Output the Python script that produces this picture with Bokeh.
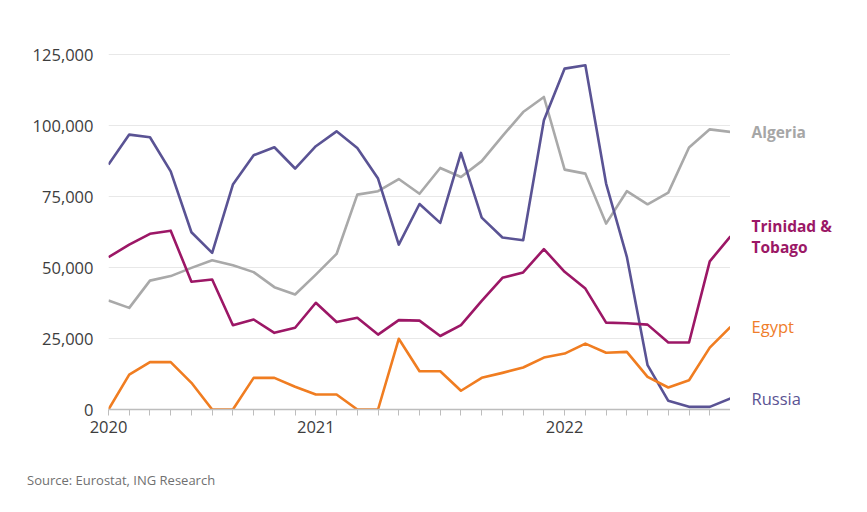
from bokeh.plotting import figure
from bokeh.models import FixedTicker, NumeralTickFormatter, Range1d, Div
from bokeh.layouts import row, column
from bokeh.core.properties import value
from bokeh.embed import file_html
from bokeh.resources import INLINE

months = list(range(31))
tick_labels = {0: "2020", 10: "2021", 22: "2022"}
y_ticks = [0, 25000, 50000, 75000, 100000, 125000]

russia = [86300, 96850, 95900, 83900, 62450, 55200, 79250, 89600, 92400, 84900,
          92750, 98000, 92150, 81350, 58100, 72400, 65750, 90400, 67600, 60600,
          59650, 101900, 120100, 121300, 79600, 53800, 15600, 3050, 940, 940, 3900]
algeria = [38400, 35800, 45400, 47000, 49900, 52600, 50800, 48400, 43100, 40500,
           47500, 54800, 75700, 76900, 81200, 76000, 85100, 81900, 87500, 96300,
           104800, 110100, 84500, 83100, 65500, 76900, 72300, 76400, 92300, 98700, 97800]
trinidad = [53650, 58100, 61900, 63000, 45000, 45800, 29700, 31700, 27000, 28800,
            37600, 30800, 32300, 26400, 31500, 31300, 25900, 29700, 38300, 46400,
            48300, 56500, 48500, 42600, 30600, 30400, 29900, 23600, 23600, 52200, 61000]
egypt = [0, 12300, 16700, 16700, 9400, 0, 0, 11150, 11150, 8000,
         5300, 5300, 0, 0, 24900, 13500, 13500, 6600, 11150, 12900,
         14800, 18300, 19700, 23200, 20000, 20300, 11500, 7750, 10300, 21800, 29100]

series_names = ["Algeria", "Trinidad &\nTobago", "Egypt", "Russia"]
series_vals = [algeria, trinidad, egypt, russia]
line_colors = ["#a9a9a9", "#9c1766", "#f07d21", "#5a5394"]
label_colors = ["#a6a6a6", "#9b1866", "#ef7d2a", "#5b5393"]
label_bold = [True, True, False, False]

font = "Open Sans"
H = 449
p = figure(width=730, height=H, output_backend="svg", toolbar_location=None,
           x_range=Range1d(0, 30), y_range=Range1d(0, 130000),
           min_border_left=108, min_border_right=0, min_border_top=40, min_border_bottom=40)
p.outline_line_color = None

for idx in [0, 3, 1, 2]:
    p.line(months, series_vals[idx], line_color=line_colors[idx], line_width=2.6,
           line_join="round")

p.yaxis.ticker = FixedTicker(ticks=y_ticks)
p.yaxis.formatter = NumeralTickFormatter(format="0,0")
p.yaxis.axis_line_color = None
p.yaxis.major_tick_line_color = None
p.yaxis.major_tick_out = 0
p.yaxis.major_tick_in = 0
p.yaxis.minor_tick_line_color = None
p.yaxis.major_label_text_font = font
p.yaxis.major_label_text_font_size = "16.5px"
p.yaxis.major_label_text_color = "#3d3d3d"
p.yaxis.major_label_standoff = 15

p.xaxis.ticker = FixedTicker(ticks=months)
p.xaxis.major_label_overrides = {m: tick_labels.get(m, "") for m in months}
p.xaxis.axis_line_color = "#bdbdbd"
p.xaxis.axis_line_width = 1.5
p.xaxis.major_tick_line_color = "#bdbdbd"
p.xaxis.major_tick_in = 0
p.xaxis.major_tick_out = 6
p.xaxis.minor_tick_line_color = None
p.xaxis.major_label_text_font = font
p.xaxis.major_label_text_font_size = "16.5px"
p.xaxis.major_label_text_color = "#3d3d3d"
p.xaxis.major_label_standoff = 5

p.xgrid.grid_line_color = None
p.ygrid.ticker = FixedTicker(ticks=y_ticks[1:])
p.ygrid.grid_line_color = "#e8e8e8"
p.ygrid.grid_line_width = 1.2

# right-hand series labels, aligned with each series' last value
p2 = figure(width=121, height=H, output_backend="svg", toolbar_location=None,
            x_range=Range1d(0, 121), y_range=p.y_range,
            x_axis_location=None, y_axis_location=None,
            min_border_left=0, min_border_right=0, min_border_top=40, min_border_bottom=40)
p2.outline_line_color = None
p2.grid.visible = False
for name, vals, col, bold in zip(series_names, series_vals, label_colors, label_bold):
    p2.text(x=[21], y=[vals[-1]], text=[name], text_baseline="middle", text_align="left",
            text_font=value(font), text_font_size="15.5px" if bold else "16.5px",
            text_font_style="bold" if bold else "normal",
            text_line_height=0.95, text_color=col)

src = Div(text="Source: Eurostat, ING Research", width=400, height=20,
          margin=(22, 0, 0, 27),
          styles={"font-family": "Open Sans", "font-size": "13px", "color": "#707070"})

layout = column(row(p, p2), src)
open("out.html", "w").write(file_html(layout, INLINE))
